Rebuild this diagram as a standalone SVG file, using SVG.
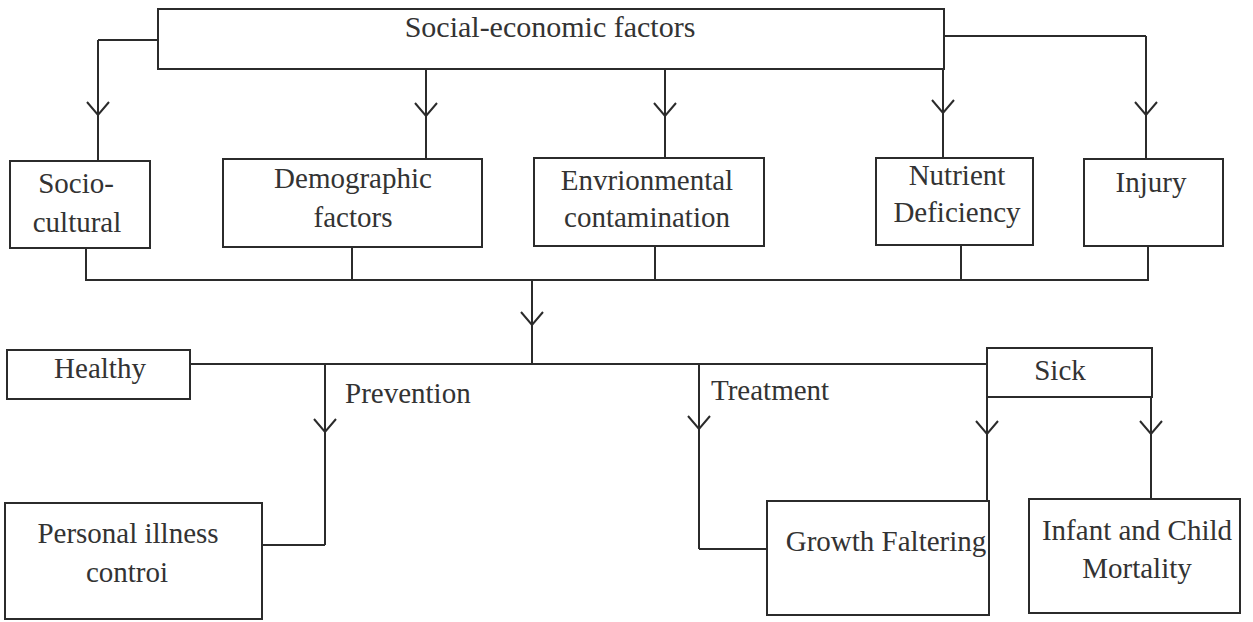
<svg xmlns="http://www.w3.org/2000/svg" width="1253" height="622" viewBox="0 0 1253 622">
<defs>
<style>
.box{fill:none;stroke:#2b2b2b;stroke-width:2}
.ln{fill:none;stroke:#2b2b2b;stroke-width:2}
.t{font-family:"Liberation Serif","Times New Roman",serif;font-size:29px;fill:#333;text-anchor:middle}
.lbl{font-family:"Liberation Serif","Times New Roman",serif;font-size:29px;fill:#333}
</style>
<marker id="v" markerUnits="userSpaceOnUse" orient="auto" overflow="visible" refX="0" refY="0" markerWidth="1" markerHeight="1">
<path d="M-13,-11 L0,0 L-13,11" fill="none" stroke="#2b2b2b" stroke-width="2"/>
</marker>
</defs>
<rect width="1253" height="622" fill="#fff"/>

<g id="connectors">
<path class="ln" d="M158,40 H98"/>
<path class="ln" d="M98,40 V115 V161" marker-mid="url(#v)"/>
<path class="ln" d="M426,69 V116 V159" marker-mid="url(#v)"/>
<path class="ln" d="M665,69 V116 V158" marker-mid="url(#v)"/>
<path class="ln" d="M943,69 V113 V158" marker-mid="url(#v)"/>
<path class="ln" d="M944,36 H1146"/>
<path class="ln" d="M1146,36 V115 V159" marker-mid="url(#v)"/>
<path class="ln" d="M86,248 V280 M352,247 V280 M655,246 V280 M961,245 V280 M1148,246 V280"/>
<path class="ln" d="M85,280 H1149"/>
<path class="ln" d="M532,280 V325 V364" marker-mid="url(#v)"/>
<path class="ln" d="M190,364 H987"/>
<path class="ln" d="M325,364 V432 V545" marker-mid="url(#v)"/>
<path class="ln" d="M325,545 H262"/>
<path class="ln" d="M699,364 V429 V549" marker-mid="url(#v)"/>
<path class="ln" d="M699,549 H767"/>
<path class="ln" d="M987,397 V434 V501" marker-mid="url(#v)"/>
<path class="ln" d="M1151,397 V434 V499" marker-mid="url(#v)"/>
<text class="lbl" x="345" y="403">Prevention</text>
<text class="lbl" x="711" y="400">Treatment</text>
</g>

<g id="social-economic">
<rect class="box" x="158" y="9" width="786" height="60"/>
<text class="t" x="550" y="37" style="font-size:30px">Social-economic factors</text>
</g>
<g id="socio-cultural">
<rect class="box" x="10" y="161" width="140" height="87"/>
<text class="t" x="76" y="193">Socio-</text>
<text class="t" x="77" y="232">cultural</text>
</g>
<g id="demographic">
<rect class="box" x="223" y="159" width="259" height="88"/>
<text class="t" x="353" y="188">Demographic</text>
<text class="t" x="353" y="227">factors</text>
</g>
<g id="environmental">
<rect class="box" x="534" y="158" width="230" height="88"/>
<text class="t" x="647" y="190">Envrionmental</text>
<text class="t" x="647" y="227">contamination</text>
</g>
<g id="nutrient">
<rect class="box" x="876" y="158" width="157" height="87"/>
<text class="t" x="957" y="185">Nutrient</text>
<text class="t" x="957" y="222">Deficiency</text>
</g>
<g id="injury">
<rect class="box" x="1084" y="159" width="139" height="87"/>
<text class="t" x="1151" y="192">Injury</text>
</g>
<g id="healthy">
<rect class="box" x="7" y="350" width="183" height="49"/>
<text class="t" x="100" y="378">Healthy</text>
</g>
<g id="sick">
<rect class="box" x="987" y="348" width="165" height="49"/>
<text class="t" x="1060" y="380">Sick</text>
</g>
<g id="personal-illness-control">
<rect class="box" x="5" y="503" width="257" height="116"/>
<text class="t" x="128" y="543">Personal illness</text>
<text class="t" x="127" y="582">controi</text>
</g>
<g id="growth-faltering">
<rect class="box" x="767" y="501" width="222" height="114"/>
<text class="t" x="886" y="551">Growth Faltering</text>
</g>
<g id="infant-child-mortality">
<rect class="box" x="1029" y="499" width="211" height="114"/>
<text class="t" x="1137" y="540">Infant and Child</text>
<text class="t" x="1137" y="578">Mortality</text>
</g>
</svg>
